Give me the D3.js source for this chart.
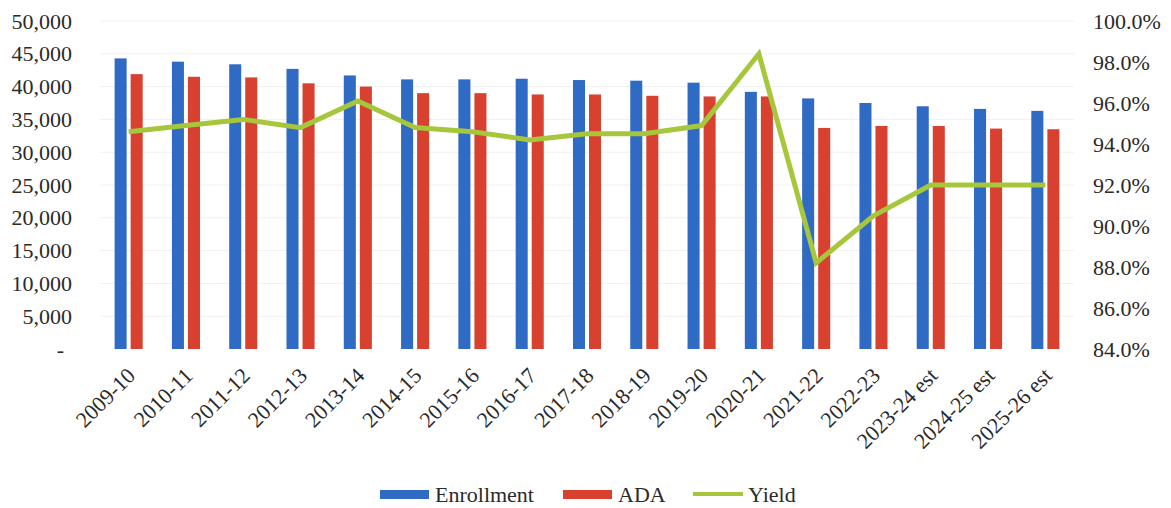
<!DOCTYPE html>
<html>
<head>
<meta charset="utf-8">
<script src="https://cdn.jsdelivr.net/npm/d3@7"></script>
<style>
  html, body { margin: 0; padding: 0; background: #fff; }
  svg { display: block; }
  svg text { font-family: "Liberation Serif", "DejaVu Serif", "Times New Roman", serif !important; fill: #2a2a2a; }
</style>
</head>
<body>
<svg id="chart" width="1171" height="508"></svg>
<script>
const categories = ["2009-10","2010-11","2011-12","2012-13","2013-14","2014-15","2015-16","2016-17","2017-18","2018-19","2019-20","2020-21","2021-22","2022-23","2023-24 est","2024-25 est","2025-26 est"];
const enrollment = [44300, 43800, 43400, 42700, 41700, 41100, 41100, 41200, 41000, 40900, 40600, 39200, 38200, 37500, 37000, 36600, 36300];
const ada = [41900, 41500, 41400, 40500, 40000, 39000, 39000, 38800, 38800, 38600, 38500, 38500, 33700, 34000, 34000, 33600, 33500];
const yieldPct = [94.6, 94.9, 95.2, 94.8, 96.1, 94.8, 94.6, 94.2, 94.5, 94.5, 94.9, 98.4, 88.2, 90.5, 92.0, 92.0, 92.0];
const leftTicks = [0, 5000, 10000, 15000, 20000, 25000, 30000, 35000, 40000, 45000, 50000];
const rightTicks = [84, 86, 88, 90, 92, 94, 96, 98, 100];
const seriesNames = ["Enrollment", "ADA", "Yield"];
const colors = { Enrollment: "#2f6ac4", ADA: "#d8402f", Yield: "#a6c73b" };
const FONT = "'Liberation Serif', 'DejaVu Serif', 'Times New Roman', serif";

const svg = d3.select("#chart");
const plot = { left: 100, right: 1074, top: 21, bottom: 349 };

const x0 = d3.scaleBand().domain(categories).range([plot.left, plot.right]).paddingInner(0.51).paddingOuter(0.255);
const x1 = d3.scaleBand().domain(["Enrollment", "ADA"]).range([0, x0.bandwidth()]).paddingInner(0.25);
const yL = d3.scaleLinear().domain([0, 50000]).range([plot.bottom, plot.top]);
const yR = d3.scaleLinear().domain([84, 100]).range([plot.bottom, plot.top]);

// gridlines
svg.append("g").selectAll("line").data(leftTicks.slice(1)).join("line")
  .attr("x1", plot.left).attr("x2", plot.right)
  .attr("y1", d => yL(d)).attr("y2", d => yL(d))
  .attr("stroke", "#f0f0f0").attr("stroke-width", 1);

// left axis
const fmt = d3.format(",");
const leftAxis = d3.axisLeft(yL).tickValues(leftTicks).tickSize(0).tickPadding(0)
  .tickFormat(d => d === 0 ? "-" : fmt(d));
const gL = svg.append("g").attr("transform", "translate(72,0)").call(leftAxis)
  .attr("font-family", FONT).attr("font-size", 22);
gL.select(".domain").remove();
gL.selectAll("text").attr("fill", "#2a2a2a")
  .attr("x", d => d === 0 ? -8 : 0);

// right axis
const rightAxis = d3.axisRight(yR).tickValues(rightTicks).tickSize(0).tickPadding(0)
  .tickFormat(d => d.toFixed(1) + "%");
const gR = svg.append("g").attr("transform", "translate(1093,0)").call(rightAxis)
  .attr("font-family", FONT).attr("font-size", 22);
gR.select(".domain").remove();
gR.selectAll("text").attr("fill", "#2a2a2a");

// bars
const groups = svg.append("g").selectAll("g").data(categories).join("g")
  .attr("transform", d => `translate(${x0(d)},0)`);
groups.append("rect")
  .attr("x", x1("Enrollment")).attr("width", x1.bandwidth())
  .attr("y", (d, i) => yL(enrollment[i]))
  .attr("height", (d, i) => yL(0) - yL(enrollment[i]))
  .attr("fill", colors.Enrollment);
groups.append("rect")
  .attr("x", x1("ADA")).attr("width", x1.bandwidth())
  .attr("y", (d, i) => yL(ada[i]))
  .attr("height", (d, i) => yL(0) - yL(ada[i]))
  .attr("fill", colors.ADA);

// yield line
const line = d3.line()
  .x((d, i) => x0(categories[i]) + x0.bandwidth() / 2)
  .y(d => yR(d));
svg.append("path").datum(yieldPct).attr("d", line)
  .attr("fill", "none").attr("stroke", colors.Yield).attr("stroke-width", 5)
  .attr("stroke-linejoin", "miter");

// x labels
const xAxis = d3.axisBottom(x0).tickSize(0).tickPadding(0);
const gX = svg.append("g").attr("transform", `translate(0,${plot.bottom})`).call(xAxis)
  .attr("font-family", FONT).attr("font-size", 22);
gX.select(".domain").remove();
gX.selectAll("text")
  .attr("fill", "#2a2a2a")
  .attr("text-anchor", "end")
  .attr("dy", null).attr("y", null)
  .attr("transform", "translate(8,28) rotate(-45)");

// legend
const legend = svg.append("g").attr("font-family", FONT).attr("font-size", 22);
const items = [
  { name: seriesNames[0], x: 380, type: "rect" },
  { name: seriesNames[1], x: 563, type: "rect" },
  { name: seriesNames[2], x: 693, type: "line" }
];
items.forEach(it => {
  if (it.type === "rect") {
    legend.append("rect").attr("x", it.x).attr("y", 490).attr("width", 49).attr("height", 9)
      .attr("fill", colors[it.name]);
  } else {
    legend.append("line").attr("x1", it.x).attr("x2", it.x + 50).attr("y1", 494).attr("y2", 494)
      .attr("stroke", colors[it.name]).attr("stroke-width", 4);
  }
  legend.append("text").attr("x", it.x + 55).attr("y", 502).text(it.name);
});
</script>
</body>
</html>
